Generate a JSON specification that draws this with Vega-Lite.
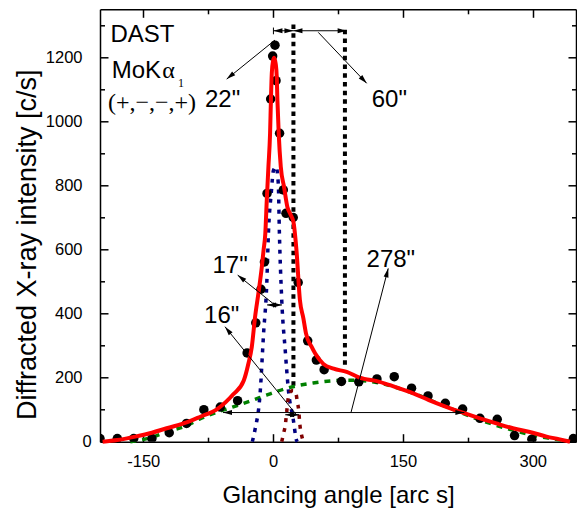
{
  "$schema": "https://vega.github.io/schema/vega-lite/v6.json",
  "width": 476,
  "height": 432.4,
  "autosize": {"type": "none"},
  "padding": {"left": 100, "top": 9.3, "right": 1, "bottom": 73.3},
  "background": "white",
  "config": {
    "view": {"stroke": null},
    "axis": {"grid": false, "domainColor": "black", "domainWidth": 1.5, "tickColor": "black", "tickWidth": 1.5, "labelColor": "black", "labelFont": "Liberation Sans", "labelFontSize": 16.5, "titleColor": "black", "titleFont": "Liberation Sans", "titleFontWeight": "normal", "labelFlush": false, "labelOverlap": false}
  },
  "datasets": {
    "dots": [
      {"x": -200, "y": 10}, {"x": -180, "y": 10}, {"x": -161, "y": 10}, {"x": -140, "y": 10},
      {"x": -120, "y": 28}, {"x": -100, "y": 57}, {"x": -80, "y": 100}, {"x": -61, "y": 108},
      {"x": -41, "y": 128}, {"x": -30, "y": 277}, {"x": -20, "y": 371}, {"x": -14, "y": 476},
      {"x": -10, "y": 561}, {"x": -7, "y": 775}, {"x": -2.8, "y": 1070}, {"x": -0.5, "y": 1204},
      {"x": 2.2, "y": 1238}, {"x": 3.4, "y": 1127}, {"x": 7.5, "y": 963}, {"x": 11.8, "y": 786},
      {"x": 14.9, "y": 713}, {"x": 23.3, "y": 700}, {"x": 29, "y": 497}, {"x": 40, "y": 315},
      {"x": 50, "y": 255}, {"x": 59, "y": 225}, {"x": 79, "y": 188}, {"x": 99, "y": 187},
      {"x": 120, "y": 196}, {"x": 140, "y": 203}, {"x": 160, "y": 167}, {"x": 179, "y": 143},
      {"x": 199, "y": 120}, {"x": 219, "y": 102}, {"x": 239, "y": 73}, {"x": 259, "y": 70},
      {"x": 279, "y": 19}, {"x": 299, "y": 8}, {"x": 347, "y": 10}
    ],
    "fit": [
      {"x": -197, "y": 0}, {"x": -180, "y": 5}, {"x": -161, "y": 15}, {"x": -140, "y": 28},
      {"x": -123, "y": 42}, {"x": -100, "y": 60}, {"x": -84, "y": 78}, {"x": -65, "y": 101},
      {"x": -46, "y": 148}, {"x": -34, "y": 190}, {"x": -28.5, "y": 244}, {"x": -24.6, "y": 296},
      {"x": -20.8, "y": 390}, {"x": -17, "y": 463}, {"x": -13, "y": 546}, {"x": -11, "y": 598},
      {"x": -9, "y": 650}, {"x": -7.3, "y": 754}, {"x": -5.4, "y": 858}, {"x": -3.5, "y": 962},
      {"x": -2.5, "y": 1066}, {"x": -1.5, "y": 1150}, {"x": 0, "y": 1190}, {"x": 1.2, "y": 1199},
      {"x": 3, "y": 1180}, {"x": 4.2, "y": 1140}, {"x": 5, "y": 1066}, {"x": 6.5, "y": 962},
      {"x": 8.9, "y": 858}, {"x": 12.7, "y": 795}, {"x": 16.5, "y": 733}, {"x": 20, "y": 710},
      {"x": 23.5, "y": 686}, {"x": 27, "y": 598}, {"x": 31, "y": 442}, {"x": 35, "y": 385},
      {"x": 38, "y": 338}, {"x": 44.6, "y": 296}, {"x": 48.5, "y": 276}, {"x": 58, "y": 243},
      {"x": 70, "y": 228}, {"x": 85, "y": 218}, {"x": 100, "y": 200}, {"x": 123, "y": 187},
      {"x": 140, "y": 172}, {"x": 162, "y": 151}, {"x": 180, "y": 130}, {"x": 200, "y": 109},
      {"x": 220, "y": 90}, {"x": 239, "y": 73}, {"x": 258, "y": 57}, {"x": 277, "y": 42},
      {"x": 300, "y": 28}, {"x": 316, "y": 16}, {"x": 330, "y": 8}, {"x": 343, "y": 0}
    ],
    "green": [
      {"x": -165, "y": 0}, {"x": -140, "y": 14}, {"x": -123, "y": 31}, {"x": -100, "y": 50},
      {"x": -84, "y": 72}, {"x": -65, "y": 92}, {"x": -46, "y": 109}, {"x": -25, "y": 128},
      {"x": -7, "y": 146}, {"x": 16, "y": 167}, {"x": 46, "y": 183}, {"x": 85, "y": 192},
      {"x": 100, "y": 191}, {"x": 123, "y": 183}, {"x": 162, "y": 151}, {"x": 200, "y": 109},
      {"x": 239, "y": 68}, {"x": 277, "y": 36}, {"x": 316, "y": 12}, {"x": 343, "y": 2}
    ],
    "blue": [
      {"x": -24, "y": 0}, {"x": -21, "y": 36}, {"x": -15, "y": 151}, {"x": -11, "y": 338},
      {"x": -7.3, "y": 494}, {"x": -5.4, "y": 650}, {"x": -2, "y": 780}, {"x": 0.4, "y": 847},
      {"x": 3.5, "y": 858}, {"x": 6, "y": 806}, {"x": 7.3, "y": 650}, {"x": 10, "y": 442},
      {"x": 14, "y": 286}, {"x": 17.7, "y": 161}, {"x": 23.4, "y": 68}, {"x": 27, "y": 5},
      {"x": 28, "y": 0}
    ],
    "maroon": [
      {"x": 10, "y": 0}, {"x": 12, "y": 25}, {"x": 14, "y": 50}, {"x": 16, "y": 100},
      {"x": 18, "y": 145}, {"x": 20, "y": 156}, {"x": 23, "y": 160}, {"x": 26, "y": 155},
      {"x": 28, "y": 125}, {"x": 29.5, "y": 100}, {"x": 31, "y": 52}, {"x": 33, "y": 20},
      {"x": 35, "y": 0}
    ],
    "vlines": [
      {"x": 23.5, "y1": 175, "y2": 1315},
      {"x": 83, "y1": 240, "y2": 1290}
    ],
    "arrows": [
      {"x": 0.4, "y": 1283, "x2": 85, "y2": 1283},
      {"x": 0.4, "y": 1272, "x2": 0.4, "y2": 1293},
      {"x": 2.2, "y": 1254, "x2": -53.6, "y2": 1132},
      {"x": 52.2, "y": 1278, "x2": 108.1, "y2": 1119},
      {"x": -7, "y": 427, "x2": 10.3, "y2": 427},
      {"x": 2, "y": 427, "x2": -40.9, "y2": 520},
      {"x": -57.9, "y": 91, "x2": 221, "y2": 91},
      {"x": 14, "y": 84, "x2": 30, "y2": 84},
      {"x": 27.3, "y": 83, "x2": -55.6, "y2": 359},
      {"x": 90, "y": 91, "x2": 133, "y2": 541}
    ],
    "heads": [
      {"x": 5.6, "y": 1283, "dir": "left"}, {"x": 18.3, "y": 1283, "dir": "right"},
      {"x": 28.7, "y": 1283, "dir": "left"}, {"x": 79.8, "y": 1283, "dir": "right"},
      {"x": -49.6, "y": 1141, "dir": "sw"}, {"x": 104.6, "y": 1129, "dir": "se"},
      {"x": -1.8, "y": 427, "dir": "left"}, {"x": 5.1, "y": 427, "dir": "right"},
      {"x": -36.9, "y": 511.7, "dir": "nw17"},
      {"x": 19.2, "y": 84, "dir": "left"}, {"x": 24.8, "y": 84, "dir": "right"},
      {"x": -52.3, "y": 348, "dir": "nw16"},
      {"x": -52.7, "y": 91, "dir": "left"}, {"x": 215.8, "y": 91, "dir": "right"},
      {"x": 131.8, "y": 527.6, "dir": "n278"}
    ],
    "sans": [
      {"x": -188, "y": 1249, "t": "DAST"},
      {"x": -186.5, "y": 1136, "t": "MoK"},
      {"x": -78.7, "y": 1046, "t": "22\""},
      {"x": 114, "y": 1046, "t": "60\""},
      {"x": -70, "y": 526, "t": "17\""},
      {"x": -79.7, "y": 370, "t": "16\""},
      {"x": 108, "y": 546, "t": "278\""}
    ],
    "serif": [
      {"x": -128, "y": 1136, "t": "α"},
      {"x": -190.8, "y": 1035, "t": "(+,−,−,+)"}
    ],
    "sub": [
      {"x": -110, "y": 1107, "t": "1"}
    ]
  },
  "resolve": {"axis": {"x": "independent", "y": "independent"}},
  "layer": [
    {
      "data": {"name": "vlines"},
      "mark": {"type": "rule", "color": "black", "strokeWidth": 4, "strokeDash": [4.5, 4.2]},
      "encoding": {
        "x": {"field": "x", "type": "quantitative", "scale": {"domain": [-200, 350], "nice": false, "zero": false}, "axis": null},
        "y": {"field": "y1", "type": "quantitative", "scale": {"domain": [0, 1350], "nice": false, "zero": false}, "axis": null},
        "y2": {"field": "y2"}
      }
    },
    {
      "data": {"name": "green"},
      "mark": {"type": "line", "color": "#008000", "strokeWidth": 3.5, "strokeDash": [6, 6], "interpolate": "monotone"},
      "encoding": {
        "x": {"field": "x", "type": "quantitative", "scale": {"domain": [-200, 350], "nice": false, "zero": false},
              "axis": {"orient": "bottom", "values": [-75, 75, 225], "tickSize": -4.5, "labels": false, "domain": false, "title": null}},
        "y": {"field": "y", "type": "quantitative", "scale": {"domain": [0, 1350], "nice": false, "zero": false},
              "axis": {"orient": "left", "values": [100, 300, 500, 700, 900, 1100, 1300], "tickSize": -4.5, "labels": false, "domain": false, "title": null}}
      }
    },
    {
      "data": {"name": "blue"},
      "mark": {"type": "line", "color": "#000080", "strokeWidth": 3.5, "strokeDash": [4, 6], "interpolate": "monotone"},
      "encoding": {
        "x": {"field": "x", "type": "quantitative", "scale": {"domain": [-200, 350], "nice": false, "zero": false},
              "axis": {"orient": "top", "values": [-75, 75, 225], "tickSize": -4.5, "labels": false, "domain": false, "title": null}},
        "y": {"field": "y", "type": "quantitative", "scale": {"domain": [0, 1350], "nice": false, "zero": false},
              "axis": {"orient": "right", "values": [100, 300, 500, 700, 900, 1100, 1300], "tickSize": -4.5, "labels": false, "domain": false, "title": null}}
      }
    },
    {
      "data": {"name": "maroon"},
      "mark": {"type": "line", "color": "#800000", "strokeWidth": 3.5, "strokeDash": [4, 6], "interpolate": "monotone"},
      "encoding": {
        "x": {"field": "x", "type": "quantitative", "scale": {"domain": [-200, 350], "nice": false, "zero": false}, "axis": null},
        "y": {"field": "y", "type": "quantitative", "scale": {"domain": [0, 1350], "nice": false, "zero": false}, "axis": null}
      }
    },
    {
      "data": {"name": "dots"},
      "mark": {"type": "point", "filled": true, "color": "black", "size": 90, "opacity": 1, "clip": true},
      "encoding": {
        "x": {"field": "x", "type": "quantitative", "scale": {"domain": [-200, 350], "nice": false, "zero": false},
              "axis": {"orient": "bottom", "values": [-150, 0, 150, 300], "tickSize": -8, "labelPadding": 20, "labelExpr": "'' + datum.value",
                       "title": "Glancing angle [arc s]", "titleFontSize": 24, "titleBaseline": "alphabetic", "titleY": 61}},
        "y": {"field": "y", "type": "quantitative", "scale": {"domain": [0, 1350], "nice": false, "zero": false},
              "axis": {"orient": "left", "values": [0, 200, 400, 600, 800, 1000, 1200], "tickSize": -8, "labelPadding": 26, "labelExpr": "'' + datum.value",
                       "labelAlign": {"condition": {"test": "datum.value == 0", "value": "left"}, "value": "right"},
                       "title": "Diffracted X-ray intensity [c/s]", "titleFontSize": 27, "titleAngle": 270, "titleBaseline": "alphabetic", "titleAlign": "center", "titleX": -65, "titleY": 235}}
      }
    },
    {
      "data": {"name": "fit"},
      "mark": {"type": "line", "color": "#FF0000", "strokeWidth": 4, "interpolate": "monotone"},
      "encoding": {
        "x": {"field": "x", "type": "quantitative", "scale": {"domain": [-200, 350], "nice": false, "zero": false},
              "axis": {"orient": "top", "values": [-150, 0, 150, 300], "tickSize": -8, "labels": false, "title": null}},
        "y": {"field": "y", "type": "quantitative", "scale": {"domain": [0, 1350], "nice": false, "zero": false},
              "axis": {"orient": "right", "values": [0, 200, 400, 600, 800, 1000, 1200], "tickSize": -8, "labels": false, "title": null}}
      }
    },
    {
      "data": {"name": "arrows"},
      "mark": {"type": "rule", "color": "black", "strokeWidth": 1},
      "encoding": {
        "x": {"field": "x", "type": "quantitative", "axis": null},
        "y": {"field": "y", "type": "quantitative", "axis": null},
        "x2": {"field": "x2"},
        "y2": {"field": "y2"}
      }
    },
    {
      "data": {"name": "heads"},
      "transform": [{"filter": "datum.dir == 'left'"}],
      "mark": {"type": "point", "shape": "M0,-1L0.55,1L-0.55,1Z", "filled": true, "color": "black", "opacity": 1, "size": 81, "angle": 270},
      "encoding": {"x": {"field": "x", "type": "quantitative", "axis": null}, "y": {"field": "y", "type": "quantitative", "axis": null}}
    },
    {
      "data": {"name": "heads"},
      "transform": [{"filter": "datum.dir == 'right'"}],
      "mark": {"type": "point", "shape": "M0,-1L0.55,1L-0.55,1Z", "filled": true, "color": "black", "opacity": 1, "size": 81, "angle": 90},
      "encoding": {"x": {"field": "x", "type": "quantitative", "axis": null}, "y": {"field": "y", "type": "quantitative", "axis": null}}
    },
    {
      "data": {"name": "heads"},
      "transform": [{"filter": "datum.dir == 'sw'"}],
      "mark": {"type": "point", "shape": "M0,-1L0.55,1L-0.55,1Z", "filled": true, "color": "black", "opacity": 1, "size": 81, "angle": 231},
      "encoding": {"x": {"field": "x", "type": "quantitative", "axis": null}, "y": {"field": "y", "type": "quantitative", "axis": null}}
    },
    {
      "data": {"name": "heads"},
      "transform": [{"filter": "datum.dir == 'se'"}],
      "mark": {"type": "point", "shape": "M0,-1L0.55,1L-0.55,1Z", "filled": true, "color": "black", "opacity": 1, "size": 81, "angle": 136.5},
      "encoding": {"x": {"field": "x", "type": "quantitative", "axis": null}, "y": {"field": "y", "type": "quantitative", "axis": null}}
    },
    {
      "data": {"name": "heads"},
      "transform": [{"filter": "datum.dir == 'nw17'"}],
      "mark": {"type": "point", "shape": "M0,-1L0.55,1L-0.55,1Z", "filled": true, "color": "black", "opacity": 1, "size": 81, "angle": 309},
      "encoding": {"x": {"field": "x", "type": "quantitative", "axis": null}, "y": {"field": "y", "type": "quantitative", "axis": null}}
    },
    {
      "data": {"name": "heads"},
      "transform": [{"filter": "datum.dir == 'nw16'"}],
      "mark": {"type": "point", "shape": "M0,-1L0.55,1L-0.55,1Z", "filled": true, "color": "black", "opacity": 1, "size": 81, "angle": 321},
      "encoding": {"x": {"field": "x", "type": "quantitative", "axis": null}, "y": {"field": "y", "type": "quantitative", "axis": null}}
    },
    {
      "data": {"name": "heads"},
      "transform": [{"filter": "datum.dir == 'n278'"}],
      "mark": {"type": "point", "shape": "M0,-1L0.55,1L-0.55,1Z", "filled": true, "color": "black", "opacity": 1, "size": 81, "angle": 14.5},
      "encoding": {"x": {"field": "x", "type": "quantitative", "axis": null}, "y": {"field": "y", "type": "quantitative", "axis": null}}
    },
    {
      "data": {"name": "sans"},
      "mark": {"type": "text", "font": "Liberation Sans", "fontSize": 24, "color": "black", "align": "left", "baseline": "alphabetic"},
      "encoding": {"x": {"field": "x", "type": "quantitative", "axis": null}, "y": {"field": "y", "type": "quantitative", "axis": null}, "text": {"field": "t"}}
    },
    {
      "data": {"name": "serif"},
      "mark": {"type": "text", "font": "Liberation Serif", "fontSize": 24, "color": "black", "align": "left", "baseline": "alphabetic"},
      "encoding": {"x": {"field": "x", "type": "quantitative", "axis": null}, "y": {"field": "y", "type": "quantitative", "axis": null}, "text": {"field": "t"}}
    },
    {
      "data": {"name": "sub"},
      "mark": {"type": "text", "font": "Liberation Serif", "fontSize": 12, "color": "black", "align": "left", "baseline": "alphabetic"},
      "encoding": {"x": {"field": "x", "type": "quantitative", "axis": null}, "y": {"field": "y", "type": "quantitative", "axis": null}, "text": {"field": "t"}}
    }
  ]
}
